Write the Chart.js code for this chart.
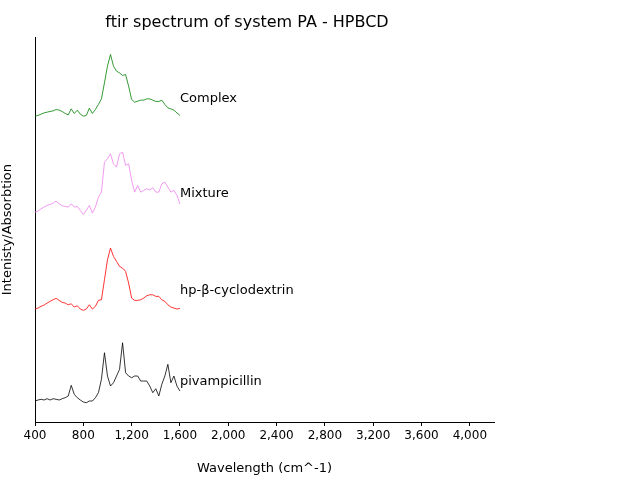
<!DOCTYPE html>
<html>
<head>
<script src="https://cdn.jsdelivr.net/npm/chart.js@4"></script>
<style>body{margin:0}canvas{display:block}</style>
</head>
<body>
<canvas id="c" width="640" height="480"></canvas>
<script>
// Wavenumbers (cm^-1), step 25
const wavenumbers = [];
for (let w = 400; w <= 1600; w += 25) wavenumbers.push(w);

// Spectra (arbitrary units)
const complex = [0,0.7,2,3.3,4,4.7,5.3,6.7,6,4.7,2.7,1.3,7.3,2.7,6,2,0,0.7,8,2.7,6.7,11.7,17.3,33.3,50,61.7,50,45,43.3,40.7,41.7,30,16.7,14,15,16,16,17.3,17.3,16,14.7,14.7,16,11.7,8.3,7.3,6,3.3,0.7];
const mixture = [0,1,3.3,5,6.7,7.7,9,11,8.3,6.3,5.7,5,8.3,5,5.7,1.7,-2.3,1.7,6.7,-1,5,15,20,50,53.3,58.3,48.3,45,58.3,60,46.7,48.3,31.7,20,26.7,20,21.7,23.3,22.3,24.3,20,20,28.3,30,25,20,21.7,16.7,8.3];
const hpbcd = [0,1,2.7,4,6,7.7,9.3,10.7,8.7,6.7,6,4.3,5.3,2,3.3,0,-1.3,0,4.3,0,2.7,8.7,9.3,29.3,49.3,61,52.7,47.7,42.7,41,37.7,26,11,8.7,8.7,9.3,11,13.3,14.3,14.3,12.7,12.7,9.3,7.7,4.3,2,1,0,0.7];
const pivampicillin = [-1,0,0.7,0,1.3,0,1.3,0.7,0,1.3,2.3,4,14.7,5.7,2.3,0,-2,-2.7,-1,-1,2.3,7.3,20.7,47.3,24,14,17.3,24,30.7,57.3,27.3,24,22.3,24,24,19,19,19,14,7.3,11.3,4,15.7,24,35.7,17.3,24,14,9];

const names = ["Complex", "Mixture", "hp-\u03B2-cyclodextrin", "pivampicillin"];
const series = [complex, mixture, hpbcd, pivampicillin];
const offsets = [306, 210, 113, 22];
const colors = ["#008000", "#ee82ee", "#ff0000", "#000000"];
const xTicks = [400, 800, 1200, 1600, 2000, 2400, 2800, 3200, 3600, 4000];

const datasets = series.map((s, i) => ({
    label: names[i],
    data: s.map((v, j) => ({ x: wavenumbers[j], y: v + offsets[i] })),
    borderColor: colors[i],
    borderWidth: 0.8,
    pointRadius: 0,
    fill: false
}));

// Text labels at the end of each trace
const endLabels = {
    id: "endLabels",
    afterDatasetsDraw(chart) {
        const ctx = chart.ctx, xs = chart.scales.x, ys = chart.scales.y;
        ctx.save();
        ctx.font = "13px 'DejaVu Sans'";
        ctx.fillStyle = "#000";
        ctx.textBaseline = "middle";
        names.forEach((n, i) => {
            ctx.fillText(n, xs.getPixelForValue(1600), ys.getPixelForValue(offsets[i] + 18));
        });
        ctx.restore();
    }
};

new Chart(document.getElementById("c"), {
    type: "line",
    data: { datasets },
    options: {
        responsive: false,
        animation: false,
        layout: { padding: { top: 0, right: 146, left: 0, bottom: 0 } },
        plugins: {
            legend: { display: false },
            tooltip: { enabled: false },
            title: {
                display: true,
                text: "ftir spectrum of system PA - HPBCD",
                color: "#000",
                font: { family: "DejaVu Sans", size: 16, weight: "normal" },
                padding: { top: 13, bottom: 5 }
            }
        },
        scales: {
            x: {
                type: "linear",
                min: 400,
                max: 4200,
                afterBuildTicks: (s) => { s.ticks = xTicks.map(v => ({ value: v })); },
                afterFit: (s) => { s.height = 58; },
                ticks: { color: "#000", font: { family: "DejaVu Sans", size: 12 }, maxRotation: 0 },
                grid: { drawOnChartArea: false, tickLength: 4, color: "#000" },
                border: { color: "#000" },
                title: { display: true, text: "Wavelength (cm^-1)", color: "#000", font: { family: "DejaVu Sans", size: 13 }, padding: { top: 2 } }
            },
            y: {
                min: 0,
                max: 385,
                afterFit: (s) => { s.width = 35; },
                ticks: { display: false },
                grid: { display: false },
                border: { color: "#000" },
                title: { display: true, text: "Intenisty/Absorbtion", color: "#000", font: { family: "DejaVu Sans", size: 13 }, padding: 0 }
            }
        }
    },
    plugins: [endLabels]
});
</script>
</body>
</html>
